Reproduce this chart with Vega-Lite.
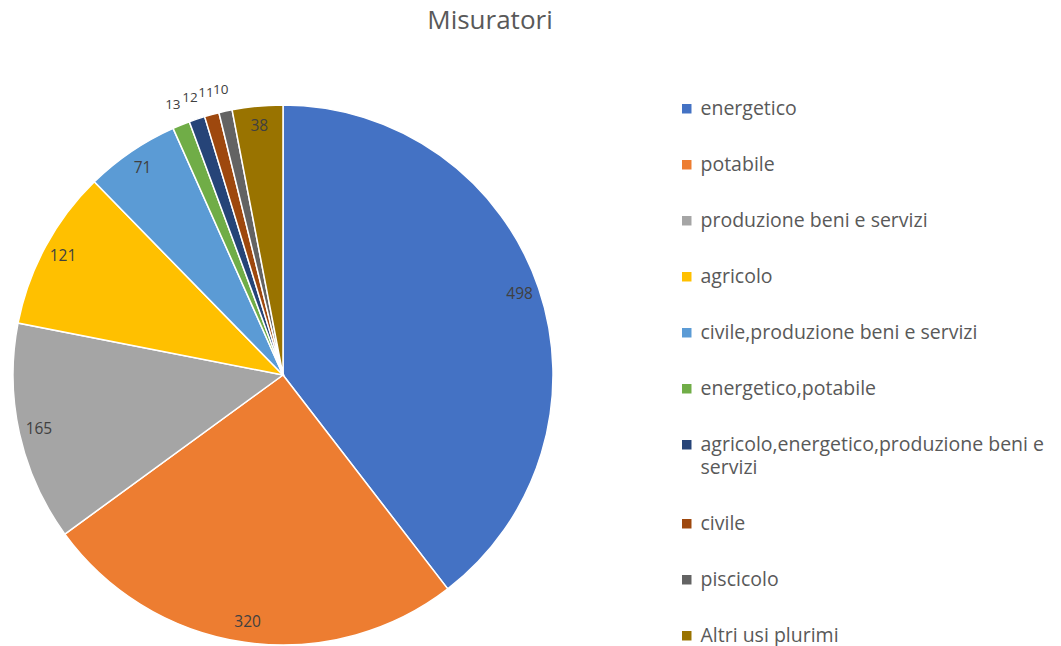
{
  "$schema": "https://vega.github.io/schema/vega-lite/v6.json",
  "autosize": {"type": "none"},
  "width": 566,
  "height": 540,
  "padding": {"left": 0, "top": 105, "right": 495, "bottom": 1},
  "background": "white",
  "config": {"style": {"guide-label": {"lineHeight": 23}}},
  "title": {
    "text": "Misuratori",
    "fontSize": 26,
    "font": "Open Sans",
    "fontWeight": "normal",
    "color": "#595959",
    "anchor": "middle",
    "frame": "group",
    "baseline": "middle",
    "offset": 30,
    "dx": 207
  },
  "data": {
    "values": [
      {"idx": 1, "categoria": "energetico", "value": 498},
      {"idx": 2, "categoria": "potabile", "value": 320},
      {"idx": 3, "categoria": "produzione beni e servizi", "value": 165},
      {"idx": 4, "categoria": "agricolo", "value": 121},
      {"idx": 5, "categoria": "civile,produzione beni e servizi", "value": 71},
      {"idx": 6, "categoria": "energetico,potabile", "value": 13},
      {"idx": 7, "categoria": "agricolo,energetico,produzione beni e servizi", "value": 12},
      {"idx": 8, "categoria": "civile", "value": 11},
      {"idx": 9, "categoria": "piscicolo", "value": 10},
      {"idx": 10, "categoria": "Altri usi plurimi", "value": 38}
    ]
  },
  "encoding": {
    "theta": {"field": "value", "type": "quantitative", "stack": true},
    "order": {"field": "idx", "type": "quantitative"}
  },
  "layer": [
    {
      "mark": {"type": "arc", "stroke": "white", "strokeWidth": 1.5},
      "encoding": {
        "color": {
          "field": "categoria",
          "type": "nominal",
          "sort": ["energetico", "potabile", "produzione beni e servizi", "agricolo", "civile,produzione beni e servizi", "energetico,potabile", "agricolo,energetico,produzione beni e servizi", "civile", "piscicolo", "Altri usi plurimi"],
          "scale": {
            "domain": ["energetico", "potabile", "produzione beni e servizi", "agricolo", "civile,produzione beni e servizi", "energetico,potabile", "agricolo,energetico,produzione beni e servizi", "civile", "piscicolo", "Altri usi plurimi"],
            "range": ["#4472C4", "#ED7D31", "#A5A5A5", "#FFC000", "#5B9BD5", "#70AD47", "#264478", "#9E480E", "#636363", "#997300"]
          },
          "legend": {
            "title": null,
            "orient": "none",
            "legendX": 677,
            "legendY": -6,
            "symbolType": "square",
            "symbolSize": 90,
            "symbolStrokeWidth": 0,
            "labelFont": "Open Sans",
            "labelFontSize": 19.5,
            "labelColor": "#595959",
            "labelLimit": 400,
            "labelOffset": 4,
            "rowPadding": 35,
            "labelExpr": "datum.label == 'agricolo,energetico,produzione beni e servizi' ? ['agricolo,energetico,produzione beni e', 'servizi'] : datum.label"
          }
        }
      }
    },
    {
      "mark": {"type": "text", "radius": 250, "font": "Open Sans", "fontSize": 15.5, "color": "#404040"},
      "encoding": {
        "text": {"condition": {"test": "datum.value >= 20", "field": "value", "type": "quantitative"}, "value": ""}
      }
    },
    {
      "mark": {"type": "text", "radius": 292, "font": "Open Sans", "fontSize": 13.5, "color": "#404040"},
      "encoding": {
        "text": {"condition": {"test": "datum.value < 20", "field": "value", "type": "quantitative"}, "value": ""}
      }
    }
  ]
}
